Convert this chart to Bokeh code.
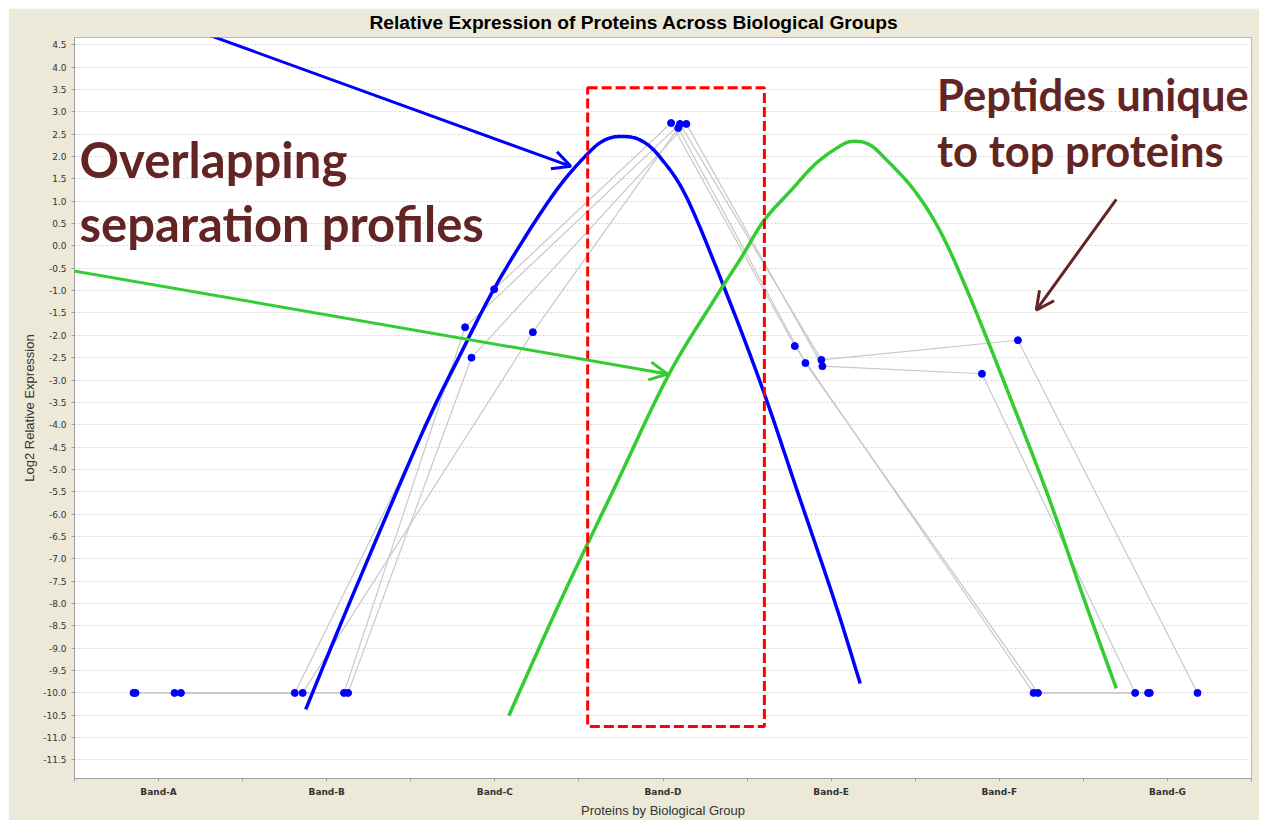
import numpy as np
from bokeh.plotting import figure
from bokeh.models import FixedTicker, Range1d, Arrow, OpenHead, Label, PrintfTickFormatter
from bokeh.embed import file_html
from bokeh.resources import INLINE

# ---------------- data ----------------
bands = ["Band-A", "Band-B", "Band-C", "Band-D", "Band-E", "Band-F", "Band-G"]
y_ticks = [round(-11.5 + 0.5 * i, 1) for i in range(33)]

# position of each protein's point inside its band (fraction of band width)
prot1_pos = [0.351, 0.310, 0.496, 0.548, 0.284, 0.704, 0.385]
prot2_pos = [0.363, 0.357, 0.726, 0.591, 0.347, 0.730, 0.395]
prot3_pos = [0.595, 0.603, 0.323, 0.601, 0.442, 0.611, 0.679]
prot4_pos = [0.633, 0.627, 0.361, 0.639, 0.448, 0.397, 0.308]
# log2 relative expression
prot1_val = [-10.0, -10.0, -0.97, 2.75, -2.24, -10.0, -10.0]
prot2_val = [-10.0, -10.0, -1.93, 2.64, -2.62, -10.0, -10.0]
prot3_val = [-10.0, -10.0, -1.82, 2.73, -2.55, -2.11, -10.0]
prot4_val = [-10.0, -10.0, -2.50, 2.73, -2.69, -2.86, -10.0]

# hand-drawn overlay (sketch control points, in chart units)
blue_sketch_x = [1.375, 1.643, 2.060, 2.298, 2.494, 2.714, 2.893, 3.054, 3.149, 3.25, 3.369, 3.488, 3.649, 3.893, 4.101, 4.292, 4.518, 4.673]
blue_sketch_y = [-10.37, -7.92, -4.25, -2.40, -0.97, 0.40, 1.38, 2.07, 2.36, 2.45, 2.36, 1.96, 1.02, -1.21, -3.29, -5.41, -7.92, -9.79]
green_sketch_x = [2.583, 2.893, 3.208, 3.530, 3.804, 3.964, 4.101, 4.262, 4.411, 4.560, 4.637, 4.726, 4.815, 4.994, 5.155, 5.333, 5.571, 5.792, 6.006, 6.196]
green_sketch_y = [-10.51, -7.92, -5.44, -2.91, -1.21, -0.27, 0.57, 1.245, 1.85, 2.25, 2.34, 2.27, 1.98, 1.245, 0.28, -1.21, -3.45, -5.61, -7.92, -9.90]
box_left, box_right, box_top, box_bottom = 3.052, 4.103, 3.54, -10.75
blue_arrow = (0.363, 5.311, 2.952, 1.78)
green_arrow = (-0.393, -0.306, 3.527, -2.866)
brown_arrow = (6.196, 1.044, 5.720, -1.436)
notes_left = [("Overlapping", 0.03, 1.513), ("separation profiles", 0.03, 0.083)]
notes_right = [("Peptides unique", 5.13, 3.032), ("to top proteins", 5.13, 1.788)]

MAROON = "#632523"
BEIGE = "#ECE9D8"
X0, X1, Y0, Y1 = 0, 7, -11.915, 4.663
W, H = 1251, 812
ML, MR, MT, MB = 74 - 8, 8, 37 - 8, 41


def smooth(xs, ys, n=12):
    pts = np.column_stack([xs, ys]).astype(float)
    pts = np.vstack([pts[0], pts, pts[-1]])
    out = []
    for i in range(1, len(pts) - 2):
        p0, p1, p2, p3 = pts[i - 1], pts[i], pts[i + 1], pts[i + 2]
        for t in np.linspace(0, 1, n, endpoint=False):
            t2, t3 = t * t, t * t * t
            out.append(0.5 * ((2 * p1) + (-p0 + p2) * t + (2 * p0 - 5 * p1 + 4 * p2 - p3) * t2 + (-p0 + 3 * p1 - 3 * p2 + p3) * t3))
    out.append(pts[-2])
    out = np.array(out)
    return out[:, 0], out[:, 1]


p = figure(width=W, height=H, output_backend="svg", toolbar_location=None,
           x_range=Range1d(X0, X1), y_range=Range1d(Y0, Y1),
           min_border_left=ML, min_border_right=MR, min_border_top=MT, min_border_bottom=MB,
           title="Relative Expression of Proteins Across Biological Groups")
p.margin = (8, 0, 0, 8)
p.border_fill_color = BEIGE
p.background_fill_color = "white"
p.outline_line_color = "#b8b8b8"

p.title.align = "left"
p.title.offset = 295
p.title.text_font = "Liberation Sans"
p.title.text_font_size = "19.2px"
p.title.text_font_style = "bold"
p.title.text_color = "black"
p.title.standoff = 5
p.title.vertical_align = "top"

# axes
p.yaxis.ticker = FixedTicker(ticks=y_ticks)
p.yaxis.formatter = PrintfTickFormatter(format="%.1f")
p.yaxis.axis_label = "Log2 Relative Expression"
p.xaxis.ticker = FixedTicker(ticks=[i + 0.5 for i in range(len(bands))], minor_ticks=list(range(len(bands) + 1)))
p.xaxis.major_label_overrides = {i + 0.5: b for i, b in enumerate(bands)}
p.xaxis.axis_label = "Proteins by Biological Group"
for ax in (p.xaxis[0], p.yaxis[0]):
    ax.axis_line_color = "#a0a0a0"
    ax.major_tick_line_color = "#a0a0a0"
    ax.minor_tick_line_color = "#a0a0a0"
    ax.major_tick_in = 0
    ax.major_tick_out = 3
    ax.minor_tick_in = 0
    ax.minor_tick_out = 3
    ax.major_label_text_color = "#333333"
    ax.axis_label_text_color = "#333333"
    ax.axis_label_text_font = "Liberation Sans"
    ax.axis_label_text_font_size = "13px"
    ax.axis_label_text_font_style = "normal"
p.yaxis.major_label_text_font = "DejaVu Sans"
p.yaxis.major_label_text_font_size = "9px"
p.yaxis.major_label_standoff = 5
p.yaxis.axis_label_standoff = 3
p.xaxis.major_label_text_font = "DejaVu Sans"
p.xaxis.major_label_text_font_size = "9px"
p.xaxis.major_label_text_font_style = "bold"
p.xaxis.major_label_standoff = 5
p.xaxis.axis_label_standoff = 3

p.xgrid.visible = False
p.ygrid.grid_line_color = "#d6d6d6"
p.ygrid.grid_line_dash = "2 2"

# protein profiles
series = [(prot1_pos, prot1_val), (prot2_pos, prot2_val), (prot3_pos, prot3_val), (prot4_pos, prot4_val)]
xs = [[i + f for i, f in enumerate(pos)] for pos, _ in series]
ys = [list(val) for _, val in series]
p.multi_line(xs, ys, line_color="#c8c8c8", line_width=1.2)
p.scatter(sum(xs, []), sum(ys, []), size=7, color="#0000ff")

# overlay: curves
bx, by = smooth(blue_sketch_x, blue_sketch_y)
p.line(bx, by, line_color="#0000ff", line_width=3.5, line_join="round")
gx, gy = smooth(green_sketch_x, green_sketch_y)
p.line(gx, gy, line_color="#33cc33", line_width=3.5, line_join="round")

# overlay: dashed box
p.quad(left=box_left, right=box_right, top=box_top, bottom=box_bottom,
       fill_alpha=0, line_color="#ff0000", line_width=3, line_dash="10 4")

# overlay: arrows
for (x0, y0, x1, y1), col in [(blue_arrow, "#0000ff"), (green_arrow, "#33cc33"), (brown_arrow, MAROON)]:
    p.add_layout(Arrow(end=OpenHead(size=18, line_color=col, line_width=3),
                       x_start=x0, y_start=y0, x_end=x1, y_end=y1,
                       line_color=col, line_width=3))

for txt, x, y in notes_left:
    p.add_layout(Label(x=x, y=y, y_offset=19, text=txt, text_font="Lato", text_font_style="bold",
                       text_font_size="49px", text_color=MAROON, text_baseline="alphabetic"))
for txt, x, y in notes_right:
    p.add_layout(Label(x=x, y=y, y_offset=16, text=txt, text_font="Lato", text_font_style="bold",
                       text_font_size="43.5px", text_color=MAROON, text_baseline="alphabetic"))

open("out.html", "w").write(file_html(p, INLINE))
